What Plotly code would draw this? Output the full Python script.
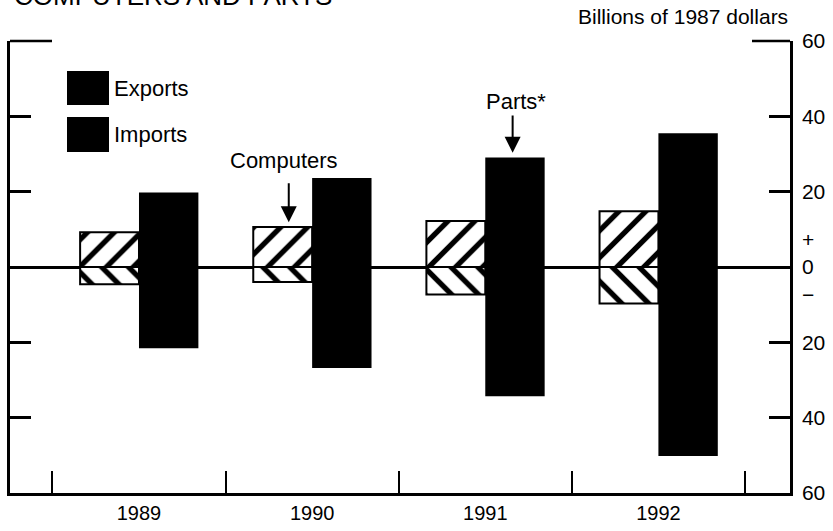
import plotly.graph_objects as go

years = ["1989", "1990", "1991", "1992"]
computer_exports = [9.2, 10.6, 12.2, 14.8]
computer_imports = [-4.6, -4.0, -7.3, -9.7]
parts_exports = [19.8, 23.6, 29.1, 35.5]
parts_imports = [-21.6, -26.8, -34.3, -50.2]

ytick_vals = [-60, -40, -20, 0, 20, 40, 60]
ytick_text = ["60", "40", "20", "+<br>0<br>\u2212", "20", "40", "60"]

FONT = "Arial, Liberation Sans, sans-serif"

# plot area in pixels (for placing the decorations)
L, R, T, B = 10, 790, 41, 493
def px(x):
    return (x - L) / (R - L)
def py(y):
    return (B - y) / (B - T)

hatch_up = dict(shape="/", bgcolor="white", fgcolor="black", fgopacity=1, size=19, solidity=0.28)
hatch_dn = dict(shape="\\", bgcolor="white", fgcolor="black", fgopacity=1, size=19, solidity=0.28)

fig = go.Figure()
fig.add_trace(go.Bar(x=years, y=computer_exports, offset=-0.34, width=0.34,
                     marker=dict(color="white", pattern=hatch_up, line=dict(color="black", width=2))))
fig.add_trace(go.Bar(x=years, y=computer_imports, offset=-0.34, width=0.34,
                     marker=dict(color="white", pattern=hatch_dn, line=dict(color="black", width=2))))
fig.add_trace(go.Bar(x=years, y=parts_exports, offset=0, width=0.343,
                     marker=dict(color="black", line=dict(width=0))))
fig.add_trace(go.Bar(x=years, y=parts_imports, offset=0, width=0.343,
                     marker=dict(color="black", line=dict(width=0))))

shapes = [
    # partial top frame
    dict(type="line", xref="paper", yref="paper", x0=0, x1=px(52), y0=1, y1=1,
         line=dict(color="black", width=2.5)),
    dict(type="line", xref="paper", yref="paper", x0=px(752), x1=1, y0=1, y1=1,
         line=dict(color="black", width=2.5)),
    # legend swatches
    dict(type="rect", xref="paper", yref="paper", x0=px(67), x1=px(109), y0=py(105), y1=py(71),
         fillcolor="black", line=dict(width=0)),
    dict(type="rect", xref="paper", yref="paper", x0=px(67), x1=px(109), y0=py(152), y1=py(117),
         fillcolor="black", line=dict(width=0)),
]

annotations = [
    dict(text="COMPUTERS AND PARTS", xref="paper", yref="paper", x=px(12), y=py(13),
         xanchor="left", yanchor="bottom", showarrow=False, font=dict(size=26)),
    dict(text="Billions of 1987 dollars", xref="paper", yref="paper", x=px(790), y=py(17),
         xanchor="right", yanchor="middle", showarrow=False, font=dict(size=21)),
    dict(text="*Includes peripherals and other computer parts.", xref="paper", yref="paper",
         x=px(2), y=py(526), xanchor="left", yanchor="top", showarrow=False, font=dict(size=19)),
    dict(text="Exports", xref="paper", yref="paper", x=px(112), y=py(88),
         xanchor="left", yanchor="middle", showarrow=False, font=dict(size=22)),
    dict(text="Imports", xref="paper", yref="paper", x=px(112), y=py(134),
         xanchor="left", yanchor="middle", showarrow=False, font=dict(size=22)),
    dict(text="Computers", x=0.84, y=28.3, showarrow=False, font=dict(size=22)),
    dict(text="Parts*", x=2.18, y=44.0, showarrow=False, font=dict(size=22)),
    dict(text="", x=0.865, y=11.9, ax=0.865, ay=22.6, axref="x", ayref="y",
         showarrow=True, arrowhead=2, arrowsize=1.6, arrowwidth=2, arrowcolor="black"),
    dict(text="", x=2.158, y=30.3, ax=2.158, ay=40.6, axref="x", ayref="y",
         showarrow=True, arrowhead=2, arrowsize=1.6, arrowwidth=2, arrowcolor="black"),
]

fig.update_layout(
    width=833, height=531,
    margin=dict(l=L, r=833 - R, t=T, b=531 - B),
    paper_bgcolor="white", plot_bgcolor="white",
    font=dict(family=FONT, color="black"),
    barmode="overlay", showlegend=False,
    shapes=shapes, annotations=annotations,
    xaxis=dict(range=[-0.745, 3.76], tickson="boundaries", ticks="inside", ticklen=22,
               tickwidth=2, tickcolor="black", showline=True, linecolor="black", linewidth=2.5,
               showgrid=False, zeroline=False, tickfont=dict(size=20), ticklabelstandoff=0,
               automargin=False),
    yaxis=dict(range=[-60, 60], side="right", tickvals=ytick_vals, ticktext=ytick_text,
               ticks="inside", ticklen=21, tickwidth=2.5, tickcolor="black",
               showline=True, linecolor="black", linewidth=2.5, mirror="ticks",
               showgrid=False, zeroline=True, zerolinecolor="black", zerolinewidth=3,
               tickfont=dict(size=21), ticklabelstandoff=5, automargin=False),
)

# page margin off so the figure sits at the window's top-left corner
fig.write_html("out.html", config={"displayModeBar": False},
               post_script="document.body.style.margin='0';document.body.style.overflow='hidden';")
